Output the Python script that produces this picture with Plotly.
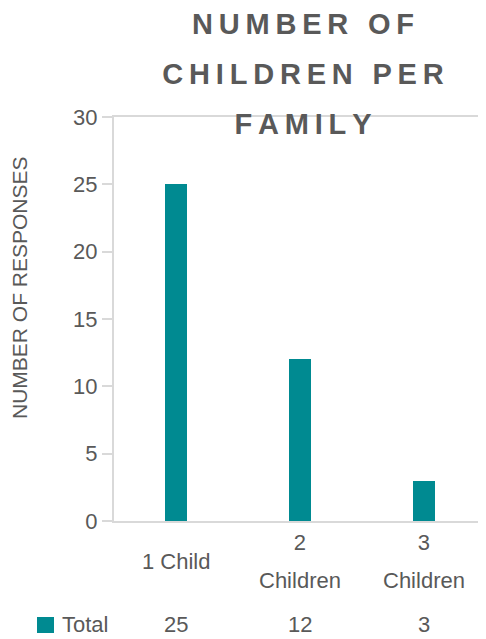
import plotly.graph_objects as go

categories = ["1 Child", "2 Children", "3 Children"]
label_lines = [["1 Child"], ["2", "Children"], ["3", "Children"]]
totals = [25, 12, 3]
series_name = "Total"
title_lines = ["NUMBER OF", "CHILDREN PER", "FAMILY"]
y_title = "NUMBER OF RESPONSES"
y_ticks = [0, 5, 10, 15, 20, 25, 30]

TEAL = "#008A91"
GREY = "#595959"
LINE = "#D9D9D9"
FONT = "Liberation Sans, Arial, sans-serif"

# page body adds an 8px margin, so the figure is offset by OFF
OFF = 8
W, H = 486 - OFF, 639 - OFF
ML, MT = 114 - OFF, 117 - OFF
PW, PH = 372, 404
MR = W - ML - PW
MB = H - MT - PH


def px_x(px):
    return (px - OFF - ML) / PW


def px_y(py):
    return (MT + PH - (py - OFF)) / PH


def spaced(s):
    return "\u2009".join(list(s))


fig = go.Figure()
fig.add_trace(go.Bar(x=categories, y=totals, name=series_name,
                     marker=dict(color=TEAL, line=dict(width=0)),
                     width=0.185, showlegend=False, hoverinfo="skip"))

title_text = "<br>".join(
    f"<span style='font-size:29px'><b>{spaced(t)}</b></span>" for t in title_lines)

annotations = []
for cat, lines in zip(categories, label_lines):
    txt = "<br>".join(f"<span style='font-size:22px'>{l}</span>" for l in lines)
    annotations.append(dict(x=cat, xref="x", y=px_y(561), yref="paper",
                            text=txt, showarrow=False, xanchor="center",
                            yanchor="middle",
                            font=dict(size=29.6, color=GREY, family=FONT)))
for cat, v in zip(categories, totals):
    annotations.append(dict(x=cat, xref="x", y=px_y(624.5), yref="paper",
                            text=str(v), showarrow=False, xanchor="center",
                            yanchor="middle",
                            font=dict(size=22, color=GREY, family=FONT)))
annotations.append(dict(x=px_x(60), xref="paper", y=px_y(624.5), yref="paper",
                        text=series_name, showarrow=False, xanchor="left",
                        yanchor="middle",
                        font=dict(size=22, color=GREY, family=FONT)))
annotations.append(dict(x=px_x(19.5), xref="paper", y=px_y(287.5), yref="paper",
                        text=y_title, showarrow=False, textangle=-90,
                        xanchor="center", yanchor="middle",
                        font=dict(size=21, color=GREY, family=FONT)))

shapes = [dict(type="rect", xref="paper", yref="paper",
               x0=px_x(37), x1=px_x(54), y0=px_y(633), y1=px_y(617),
               fillcolor=TEAL, line=dict(width=0))]

fig.update_layout(
    width=W, height=H,
    margin=dict(l=ML, r=MR, t=MT, b=MB, pad=0),
    paper_bgcolor="white", plot_bgcolor="white",
    font=dict(family=FONT, color=GREY),
    title=dict(text=title_text, x=(303 - OFF) / W, xanchor="center",
               y=1 - 26 / H, yanchor="middle", xref="container", yref="container",
               font=dict(size=38.5, color=GREY, family=FONT)),
    xaxis=dict(showline=True, linecolor=LINE, linewidth=2, mirror=True,
               showticklabels=False, ticks="", showgrid=False,
               zeroline=False, fixedrange=True, range=[-0.5, 2.5]),
    yaxis=dict(range=[0, 30], tickvals=y_ticks, showline=True, linecolor=LINE,
               linewidth=2, ticks="outside", ticklen=10, tickcolor=LINE,
               tickwidth=2, showgrid=False, zeroline=False,
               tickfont=dict(size=22, color=GREY, family=FONT),
               ticklabelstandoff=0, fixedrange=True),
    annotations=annotations, shapes=shapes, bargap=0,
)

fig.write_html("out.html", config={"displayModeBar": False})
